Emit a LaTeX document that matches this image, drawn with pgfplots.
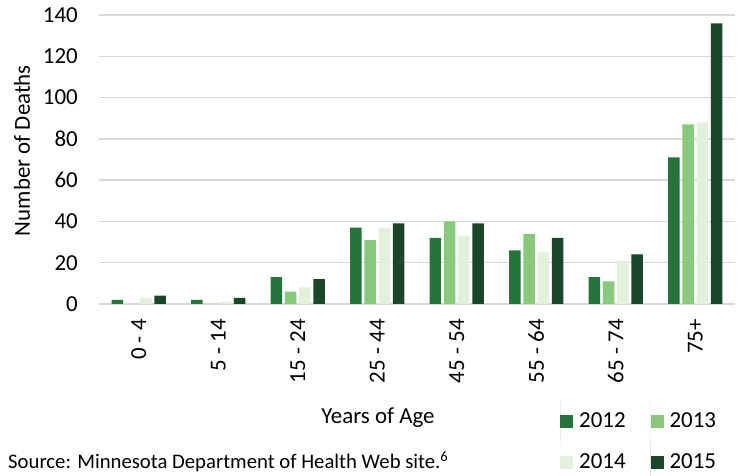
\documentclass[border=0pt]{standalone}
\usepackage{pgfplots}
\pgfplotsset{compat=1.18}
\usepackage{fontspec}
\setmainfont{Carlito}
\definecolor{c12}{HTML}{27733C}
\definecolor{c13}{HTML}{88C97C}
\definecolor{c14}{HTML}{E3F0DC}
\definecolor{c15}{HTML}{1A4727}
\definecolor{gridc}{HTML}{D9D9D9}
\newcommand{\fs}{\fontsize{23}{27}\selectfont}
\begin{document}
\begin{tikzpicture}
\useasboundingbox (0,0) rectangle (739bp,476bp);
\begin{axis}[
  at={(99bp,172bp)}, anchor=south west,
  scale only axis, width=636bp, height=289bp,
  ybar=2.8bp, bar width=11.5bp,
  xmin=-0.5, xmax=7.5, ymin=0, ymax=140,
  xtick={0,...,7},
  xticklabels={0 - 4, 5 - 14, 15 - 24, 25 - 44, 45 - 54, 55 - 64, 65 - 74, 75+},
  ytick={0,20,...,140},
  ymajorgrids, grid style={gridc, line width=1.3bp},
  axis line style={draw=none},
  major tick length=0pt,
  /pgf/number format/assume math mode=true,
  tick label style={font=\fs, inner sep=0pt},
  xticklabel style={rotate=90, anchor=east},
  xticklabel shift=15bp,
  yticklabel shift=21bp,
  xlabel={Years of Age},
  xlabel style={at={(axis description cs:0.4387,-0.394)}, anchor=center, font=\fs},
  ylabel={Number of Deaths},
  ylabel style={at={(axis description cs:-0.121,0.531)}, anchor=center, font=\fs},
  legend columns=2,
  legend cell align=left,
  legend style={at={(0.7248,-0.334)}, anchor=north west, draw=none, fill=none,
    font=\fs, inner sep=0pt,
    nodes={inner sep=0pt},
    /tikz/every odd column/.append style={column sep=6bp},
    /tikz/every even column/.append style={column sep=25bp}},
  legend image code/.code={\path[#1,draw=none] (0bp,-6.5bp) rectangle (13bp,6.5bp); \path (0bp,-20.5bp) -- (0bp,20.5bp);},
]
\addplot[fill=c12, draw=none] coordinates {(0,2) (1,2) (2,13) (3,37) (4,32) (5,26) (6,13) (7,71)};
\addplot[fill=c13, draw=none] coordinates {(0,0) (1,0) (2,6) (3,31) (4,40) (5,34) (6,11) (7,87)};
\addplot[fill=c14, draw=none] coordinates {(0,3) (1,1) (2,8) (3,37) (4,33) (5,25) (6,21) (7,88)};
\addplot[fill=c15, draw=none] coordinates {(0,4) (1,3) (2,12) (3,39) (4,39) (5,32) (6,24) (7,136)};
\legend{2012,2013,2014,2015}
\end{axis}
\node[anchor=west, font=\fontsize{20.8}{25}\selectfont, inner sep=0pt] at (8bp,14bp) {Source: Minnesota Department of Health Web site.\textsuperscript{6}};
\end{tikzpicture}
\end{document}
